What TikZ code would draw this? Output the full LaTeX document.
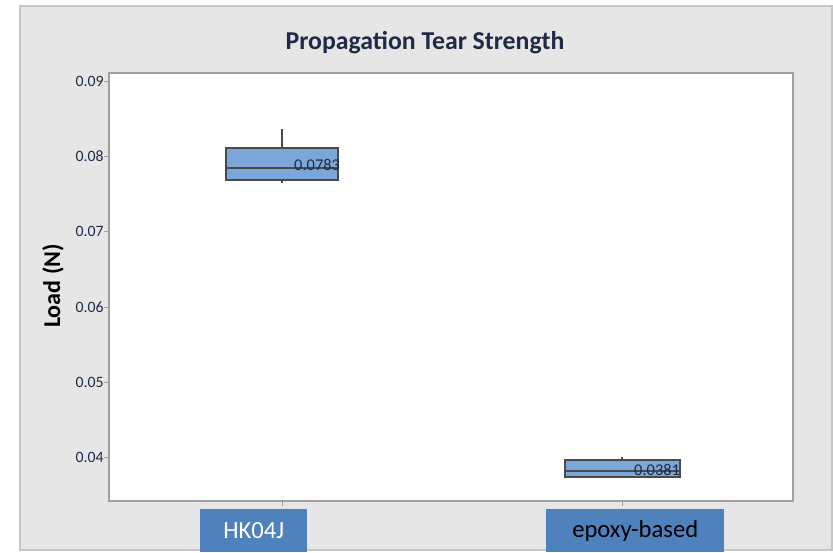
\documentclass[tikz,border=0pt]{standalone}
\usepackage{fontspec}
\setmainfont{Carlito}
\definecolor{panelgray}{HTML}{E6E6E6}
\definecolor{frameline}{HTML}{A0A0A0}
\definecolor{boxblue}{HTML}{7BA6DA}
\definecolor{tagblue}{HTML}{4F81BD}
\definecolor{inkgray}{HTML}{4A4A4A}
\definecolor{valink}{HTML}{1F2A44}
\begin{document}
\begin{tikzpicture}[x=0.03cm, y=-0.03cm, every node/.style={inner sep=0pt},
    tick/.style={font=\fontsize{13.5}{13.5}\selectfont, text=valink, anchor=east},
    boxpart/.style={draw=inkgray, fill=boxblue, line width=0.9pt},
    whisker/.style={draw=inkgray, line width=1pt},
    tag/.style={fill=tagblue, minimum height=43*0.03cm, font=\fontsize{21}{21}\selectfont}]
    \useasboundingbox (0,0) rectangle (833,552);
    \fill[white] (0,0) rectangle (833,552);
    \draw[frameline!60, fill=panelgray, line width=1pt] (20,6) rectangle (832,550);
    \draw[frameline, fill=white, line width=1.2pt] (109,73) rectangle (793,501);

    \node[font=\bfseries\fontsize{22}{22}\selectfont, text=valink] (title) at (425,43) {Propagation Tear Strength};
    \node[font=\bfseries\fontsize{20.5}{20.5}\selectfont, rotate=90] (ylabel) at (53,286) {Load (N)};

    % y axis ticks
    \foreach \v/\y in {0.09/81, 0.08/156, 0.07/231, 0.06/307, 0.05/382, 0.04/457} {
        \draw[frameline, line width=0.8pt] (104,\y) -- (109,\y);
        \node[tick] at (104,\y) {\v};
    }
    % x axis ticks
    \foreach \x in {282, 622} {
        \draw[frameline, line width=0.8pt] (\x,501) -- (\x,506);
    }

    % HK04J
    \draw[whisker] (282,129) -- (282,148);
    \draw[whisker] (282,180) -- (282,183);
    \draw[boxpart] (226,148) rectangle (338,180);
    \draw[whisker] (226,168) -- (338,168);
    \node[anchor=west, text=valink, font=\fontsize{14}{14}\selectfont] (hkval) at (294,165) {0.0783};

    % epoxy-based
    \draw[whisker] (622,457) -- (622,460);
    \draw[boxpart] (565,460) rectangle (680,477);
    \draw[whisker] (565,471) -- (680,471);
    \node[anchor=west, text=valink, font=\fontsize{14}{14}\selectfont] (epval) at (634,470) {0.0381};

    \node[tag, minimum width=107*0.03cm, text=white, anchor=north west] (hk) at (200,509) {HK04J};
    \node[tag, minimum width=178*0.03cm, text=black, anchor=north west] (epoxy) at (546,509) {epoxy-based};
\end{tikzpicture}
\end{document}
